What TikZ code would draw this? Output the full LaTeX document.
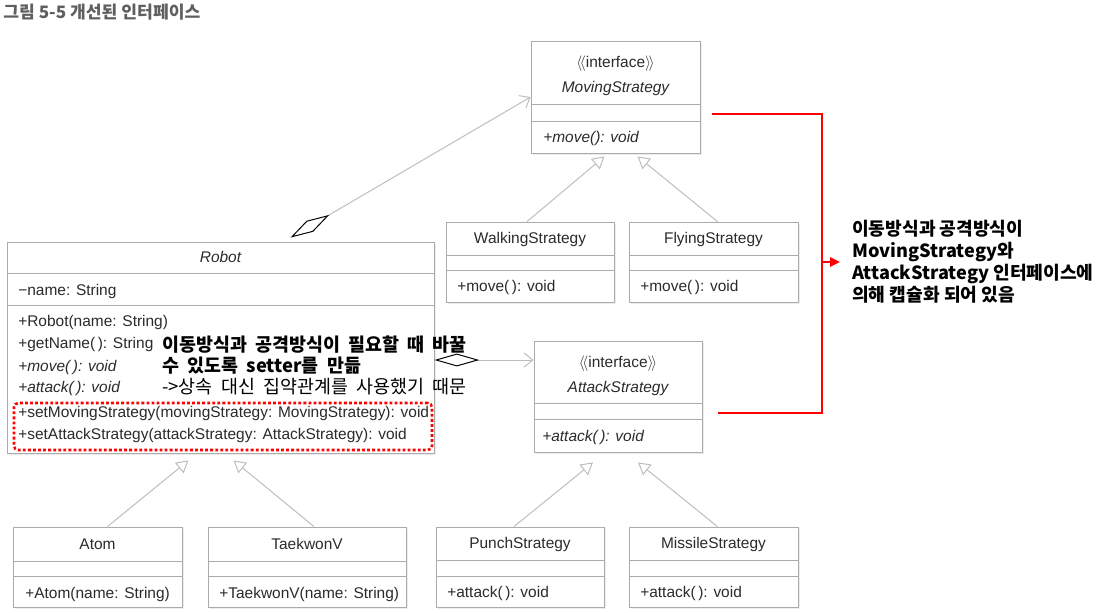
\documentclass[tikz,border=0pt]{standalone}
\usepackage{fontspec}
\setmainfont{Liberation Sans}
\newfontfamily\kr{Noto Sans CJK KR}
\usetikzlibrary{arrows.meta,fit,calc,shadows}
\definecolor{clsDraw}{HTML}{ABABAB}
\definecolor{lineC}{HTML}{BDBDBD}
\definecolor{txtC}{HTML}{2B2B2B}
\definecolor{noteRed}{HTML}{FF0000}
\definecolor{ttlC}{HTML}{5F5F5F}
\tikzset{
  cls/.style   ={draw=clsDraw, line width=0.6pt, fill=white, inner sep=0pt,
                 drop shadow={shadow xshift=1.3pt, shadow yshift=-1.3pt, fill=black!15}},
  divl/.style  ={draw=clsDraw, line width=0.6pt},
  uml/.style   ={font=\fontsize{11}{13.2}\selectfont, text=txtC, inner sep=0pt, text height=7.9pt, text depth=0pt},
  umll/.style  ={uml, anchor=west},
  agg/.style   ={draw=lineC, line width=0.7pt, {Diamond[open, color=black, length=11.2mm, width=3.2mm]}-{Straight Barb[length=2.2mm, width=3.6mm]}},
  inh/.style   ={draw=lineC, line width=0.7pt, -{Triangle[open, fill=white, length=3mm, width=3.4mm]}},
  redl/.style  ={draw=noteRed, line width=2.1pt},
  redarr/.style={draw=noteRed, line width=2.1pt, -{Triangle[length=2.5mm, width=2.3mm]}},
  setbox/.style={draw=noteRed, line width=1.8pt, dash pattern=on 2pt off 1.6pt, rounded corners=3pt, inner sep=0pt},
  knote/.style ={font=\kr\fontsize{13.1}{15}\selectfont, align=left, inner sep=0pt,
                 execute at begin node={\spaceskip=0.45em\relax}},
  rnote/.style ={font=\kr\bfseries\fontsize{12.9}{15.6}\selectfont, align=left, inner sep=0pt},
  ttl/.style   ={font=\kr\bfseries\fontsize{12.2}{13}\selectfont, text=ttlC, inner sep=0pt},
}
\begin{document}
\begin{tikzpicture}[x=0.025cm, y=-0.025cm]
  \useasboundingbox (0,0) rectangle (1098,612);
  \node[ttl, anchor=west] (title) at (3,12) {그림 5-5 개선된 인터페이스};

  % interface MovingStrategy and its two strategies
  \node[cls, fit={(531,41) (700,153)}] (ms) {};
  \draw[divl] (531,104) -- (700,104) (531,121) -- (700,121);
  \node[uml] (msst) at (615.5,62) {$\langle\!\langle$interface$\rangle\!\rangle$};
  \node[uml] (msnm) at (615.5,87) {\itshape MovingStrategy};
  \node[umll] (msop) at (543,137) {\itshape +move(): void};

  \node[cls, fit={(446,222) (614,302)}] (ws) {};
  \draw[divl] (446,255) -- (614,255) (446,270) -- (614,270);
  \node[uml] (wsnm) at (530,238) {WalkingStrategy};
  \node[umll] (wsop) at (457,286) {+move(\,): void};

  \node[cls, fit={(629,222) (798,302)}] (fs) {};
  \draw[divl] (629,255) -- (798,255) (629,270) -- (798,270);
  \node[uml] (fsnm) at (713.5,238) {FlyingStrategy};
  \node[umll] (fsop) at (640,286) {+move(\,): void};

  % Robot
  \node[cls, fit={(7,242) (434,453)}] (rb) {};
  \draw[divl] (7,273) -- (434,273) (7,305) -- (434,305);
  \node[uml] (rbnm) at (220.5,257) {\itshape Robot};
  \node[umll] (rbat) at (18,290) {−name: String};
  \node[umll] (rbo1) at (18,321) {+Robot(name: String)};
  \node[umll] (rbo2) at (18,343) {+getName(\,): String};
  \node[umll] (rbo3) at (18,366) {\itshape +move(\,): void};
  \node[umll] (rbo4) at (18,387) {\itshape +attack(\,): void};
  \node[umll] (rbo5) at (18,412) {+setMovingStrategy(movingStrategy: MovingStrategy): void};
  \node[umll] (rbo6) at (18,434) {+setAttackStrategy(attackStrategy: AttackStrategy): void};
  \node[setbox, fit={(14,403) (432,450)}] (setters) {};
  \node[knote, anchor=west] (why) at (162,365) {{\bfseries 이동방식과 공격방식이 필요할 때 바꿀}\\{\bfseries 수 있도록 setter를 만듦}\\->상속 대신 집약관계를 사용했기 때문};

  % interface AttackStrategy and its two strategies
  \node[cls, fit={(534,341) (702,452)}] (as) {};
  \draw[divl] (534,403) -- (702,403) (534,419) -- (702,419);
  \node[uml] (asst) at (618,362) {$\langle\!\langle$interface$\rangle\!\rangle$};
  \node[uml] (asnm) at (618,387) {\itshape AttackStrategy};
  \node[umll] (asop) at (542,436) {\itshape +attack(\,): void};

  \node[cls, fit={(436,527) (604,607)}] (ps) {};
  \draw[divl] (436,560) -- (604,560) (436,576) -- (604,576);
  \node[uml] (psnm) at (520,543) {PunchStrategy};
  \node[umll] (psop) at (447,592) {+attack(\,): void};

  \node[cls, fit={(629,527) (798,607)}] (mis) {};
  \draw[divl] (629,560) -- (798,560) (629,576) -- (798,576);
  \node[uml] (misnm) at (713.5,543) {MissileStrategy};
  \node[umll] (misop) at (640,592) {+attack(\,): void};

  % concrete robots
  \node[cls, fit={(13,527) (182,607)}] (at) {};
  \draw[divl] (13,561) -- (182,561) (13,576) -- (182,576);
  \node[uml] (atnm) at (97.5,544) {Atom};
  \node[umll] (atop) at (25,593) {+Atom(name: String)};

  \node[cls, fit={(208,527) (406,607)}] (tv) {};
  \draw[divl] (208,561) -- (406,561) (208,576) -- (406,576);
  \node[uml] (tvnm) at (307,544) {TaekwonV};
  \node[umll] (tvop) at (219,593) {+TaekwonV(name: String)};

  % relations
  \draw[agg] ($(rb.north)+(70,-4)$) -- (ms.west);
  \coordinate (ag) at ($(rb.east)+(0,12.5)$);
  \draw[agg] (ag) -- (ag -| as.west);
  \draw[inh] ($(ws.north)+(-3,0)$) -- ($(ms.south)+(-11,3)$);
  \draw[inh] ($(fs.north)+(4,0)$) -- ($(ms.south)+(22,3)$);
  \draw[inh] ($(ps.north)+(-6,0)$) -- ($(as.south)+(-25,10)$);
  \draw[inh] ($(mis.north)+(4,0)$) -- ($(as.south)+(20,10)$);
  \draw[inh] ($(at.north)+(10,0)$) -- ($(rb.south)+(-32,7)$);
  \draw[inh] ($(tv.north)+(7,0)$) -- ($(rb.south)+(13,7)$);

  % red bracket and note
  \node[rnote, anchor=west] (note) at (852,262) {이동방식과 공격방식이\\MovingStrategy와\\AttackStrategy 인터페이스에\\의해 캡슐화 되어 있음};
  \coordinate (rt) at ($(ms.east)+(12,17)$);
  \coordinate (rbt) at ($(as.east)+(16,16.5)$);
  \coordinate (rx) at (822,262);
  \draw[redl] (rt) -- (rt -| rx) -- (rbt -| rx) -- (rbt);
  \draw[redarr, shorten >=3mm] (rx) -- (note.west);
\end{tikzpicture}
\end{document}
